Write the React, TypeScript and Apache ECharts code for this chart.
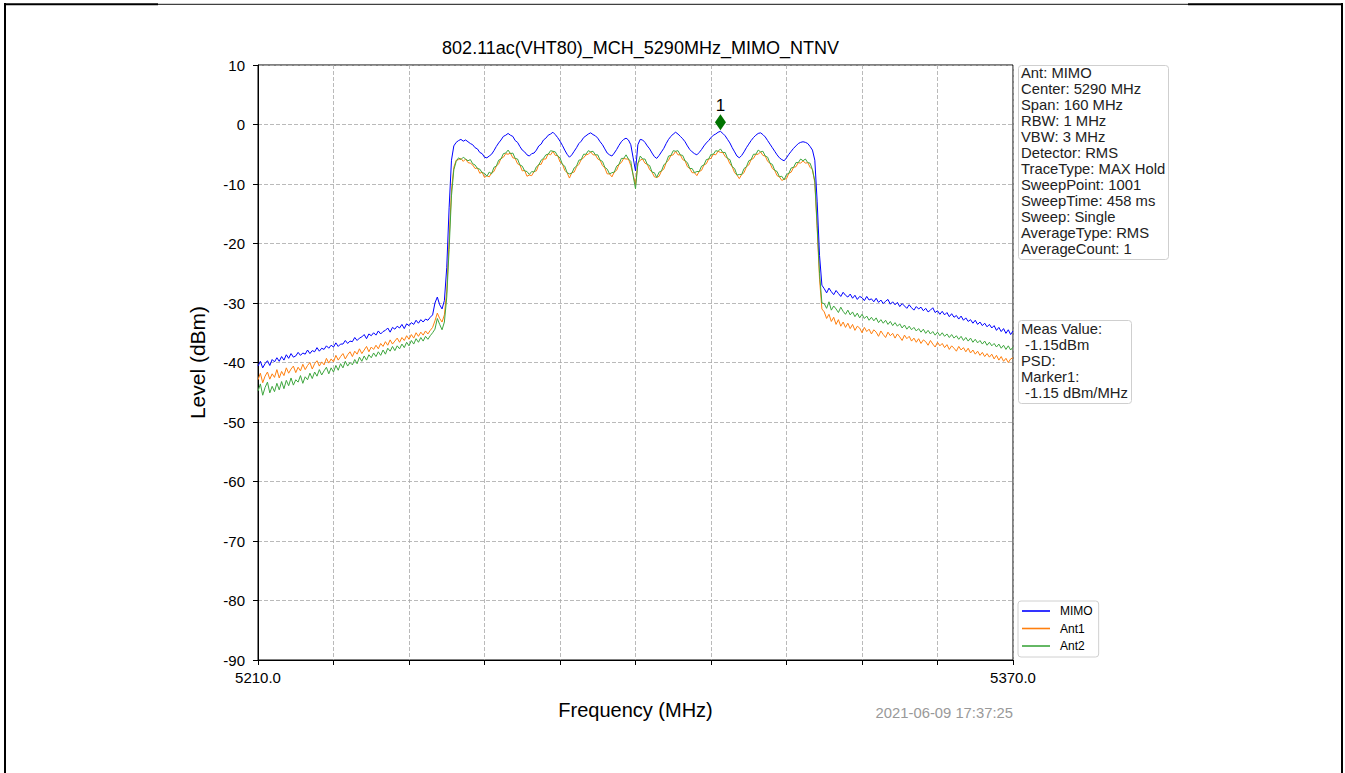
import React, { useEffect, useRef } from "react";
import * as echarts from "echarts";

// ---- axis / sweep settings ----
const F_MIN = 5210;
const F_MAX = 5370;
const STEP = 0.5; // MHz between read-off points
const LEFT_START = 5210;
const BAND_START = 5247.5;
const RIGHT_START = 5330;
const X_TICK = 16;
const Y_MIN = -90;
const Y_MAX = 10;
const Y_TICK = 10;

const TITLE = "802.11ac(VHT80)_MCH_5290MHz_MIMO_NTNV";
const TIMESTAMP = "2021-06-09 17:37:25";
const INFO_LINES = [
  "Ant: MIMO",
  "Center: 5290 MHz",
  "Span: 160 MHz",
  "RBW: 1 MHz",
  "VBW: 3 MHz",
  "Detector: RMS",
  "TraceType: MAX Hold",
  "SweepPoint: 1001",
  "SweepTime: 458 ms",
  "Sweep: Single",
  "AverageType: RMS",
  "AverageCount: 1",
];
const MEAS_LINES = ["Meas Value:", " -1.15dBm", "PSD:", "Marker1:", " -1.15 dBm/MHz"];
const MARKER_FREQ = 5308;
const MARKER_LEVEL = -1.15;

// ---- MIMO (blue) ----
const mimoLeft = [
  -40.6, -39.8, -40.9, -40.2, -39.7, -40.5, -39.5, -39.9, -39.2, -39.8,
  -39.0, -39.6, -38.7, -39.3, -38.5, -39.1, -38.9, -38.3, -38.8, -38.4,
  -38.6, -37.9, -38.5, -38.0, -38.2, -37.5, -38.1, -37.6, -37.8, -37.2,
  -37.6, -37.1, -37.4, -36.7, -37.3, -36.9, -36.9, -36.3, -36.8, -36.4,
  -36.5, -35.8, -36.3, -35.9, -35.7, -35.3, -36.0, -35.2, -35.5, -35.0,
  -35.4, -34.7, -35.2, -34.8, -34.6, -34.2, -34.9, -34.1, -34.4, -33.9,
  -34.2, -33.6, -34.3, -33.5, -33.8, -33.3, -33.6, -32.9, -33.4, -32.8,
  -33.2, -32.7, -32.9, -32.4, -32.0,
];
const mimoBand = [
  -30.0, -29.0, -30.3, -31.0, -29.6, -24.0, -14.0, -6.0, -3.6,
  -3.0, -2.7, -2.5, -2.8, -2.6, -2.9, -3.2, -3.4, -3.9, -4.1,
  -4.7, -4.9, -5.5, -5.6, -5.3, -5.0, -4.4, -3.7, -3.1, -2.6,
  -2.0, -1.8, -1.5, -1.8, -2.0, -2.7, -3.0, -3.7, -4.3, -4.6,
  -5.1, -5.3, -4.9, -4.8, -4.3, -3.6, -3.3, -2.6, -2.3, -1.8,
  -1.6, -1.3, -1.7, -2.2, -2.8, -3.5, -4.3, -5.0, -5.5, -5.1,
  -4.5, -3.9, -3.2, -2.8, -2.2, -1.9, -1.6, -1.4, -1.7, -1.9,
  -2.3, -2.9, -3.4, -4.1, -4.8, -5.1, -5.3, -4.8, -4.2, -3.5,
  -2.9, -2.5, -2.3, -2.6, -3.4, -5.6, -7.8, -3.4, -2.5, -2.6,
  -3.0, -3.6, -4.1, -4.8, -5.4, -5.7, -5.2, -4.6, -4.0, -3.2,
  -2.5, -2.0, -1.6, -1.3, -1.6, -2.0, -2.4, -2.9, -3.6, -4.2,
  -4.6, -4.9, -5.1, -4.7, -4.2, -3.6, -3.1, -2.7, -2.2, -1.8,
  -1.6, -1.3, -1.15, -1.5, -1.9, -2.5, -3.1, -3.9, -4.6, -5.3,
  -5.6, -5.2, -4.6, -3.9, -3.3, -2.7, -2.2, -1.8, -1.5, -1.4,
  -1.7, -2.1, -2.7, -3.3, -3.9, -4.5, -5.1, -5.6, -5.9, -6.1,
  -5.6, -5.0, -4.5, -4.0, -3.6, -3.2, -3.0, -2.9, -3.0, -3.2,
  -3.7, -4.3, -6.0, -13.0, -22.0, -27.0,
];
const mimoRight = [
  -27.6, -28.3, -27.5, -28.1, -28.6, -27.9, -28.4, -28.9, -28.2, -28.7,
  -29.0, -28.5, -29.2, -28.7, -29.4, -28.9, -29.1, -29.6, -28.9, -29.5,
  -29.3, -29.8, -29.2, -29.9, -29.5, -30.1, -29.7, -29.4, -30.2, -29.8,
  -30.3, -29.9, -30.6, -30.1, -30.5, -30.9, -30.3, -30.8, -31.2, -30.6,
  -31.0, -30.7, -31.3, -30.9, -31.5, -31.2, -30.8, -31.6, -31.3, -31.9,
  -31.4, -32.0, -31.6, -32.3, -31.8, -32.4, -32.1, -32.7, -32.2, -32.9,
  -32.5, -33.1, -32.8, -33.4, -32.9, -33.6, -33.2, -33.8, -33.4, -34.0,
  -33.6, -34.2, -33.8, -34.6, -34.1, -34.8, -34.3, -35.1, -34.5, -35.3,
  -34.7,
];

// ---- Ant1 (orange) ----
const ant1Left = [
  -42.9, -41.8, -43.4, -42.3, -41.6, -42.8, -41.9, -42.5, -41.2, -42.6,
  -41.5, -42.2, -40.9, -41.8, -41.1, -40.6, -41.7, -40.8, -41.4, -40.3,
  -41.2, -40.5, -40.0, -41.1, -40.2, -39.7, -40.6, -39.9, -40.4, -39.3,
  -40.1, -39.4, -39.9, -38.8, -39.6, -39.0, -38.5, -39.4, -38.7, -38.2,
  -39.0, -38.1, -38.6, -37.7, -38.5, -37.9, -37.3, -38.2, -37.4, -37.8,
  -37.1, -37.7, -36.8, -37.3, -36.5, -37.1, -36.2, -36.9, -36.4, -35.9,
  -36.6, -35.8, -36.3, -35.5, -36.1, -35.3, -35.9, -35.0, -35.6, -34.9,
  -35.4, -34.7, -35.2, -34.6, -34.1,
];
const ant1Band = [
  -33.0, -31.7, -32.6, -33.2, -32.0, -28.0, -19.5, -11.0, -7.2,
  -6.0, -5.9, -5.7, -6.2, -5.8, -6.4, -6.5, -6.8, -7.4, -7.3,
  -8.2, -8.0, -8.9, -8.6, -8.8, -8.1, -7.9, -7.0, -6.6, -5.7,
  -5.5, -4.9, -5.0, -4.8, -5.6, -5.7, -6.6, -6.8, -7.8, -7.7,
  -8.7, -8.5, -8.6, -7.9, -7.8, -6.7, -6.7, -5.8, -5.8, -4.9,
  -5.1, -4.5, -5.2, -5.2, -6.3, -6.6, -7.7, -8.1, -9.0, -8.1,
  -8.0, -7.1, -6.7, -5.9, -5.6, -5.1, -5.0, -4.6, -5.1, -5.1,
  -5.8, -6.0, -6.9, -7.3, -8.3, -8.3, -8.8, -8.0, -7.7, -6.7,
  -6.4, -5.7, -5.8, -5.8, -6.9, -8.4, -10.1, -6.5, -6.0, -5.8,
  -6.5, -6.7, -7.6, -8.0, -8.8, -8.9, -8.7, -7.8, -7.5, -6.4,
  -6.0, -5.2, -5.1, -4.5, -5.1, -5.1, -5.9, -6.1, -7.1, -7.4,
  -8.1, -8.1, -8.6, -7.9, -7.7, -6.8, -6.6, -5.8, -5.7, -5.0,
  -5.1, -4.5, -4.7, -4.7, -5.4, -5.7, -6.6, -7.1, -8.1, -8.5,
  -9.1, -8.4, -8.1, -7.1, -6.8, -5.9, -5.7, -5.0, -5.0, -4.6,
  -5.2, -5.3, -6.2, -6.5, -7.4, -7.7, -8.6, -8.8, -9.4, -9.2,
  -9.1, -8.2, -8.0, -7.2, -7.1, -6.4, -6.5, -6.1, -6.5, -6.4,
  -7.2, -7.6, -9.8, -17.5, -26.0, -31.0,
];
const ant1Right = [
  -31.5, -32.6, -31.9, -33.1, -32.4, -33.6, -32.8, -33.9, -33.2, -34.1,
  -33.4, -34.3, -33.6, -34.6, -33.9, -34.2, -35.0, -34.1, -34.8, -34.4,
  -35.2, -34.5, -34.9, -35.6, -34.7, -35.3, -35.8, -34.9, -35.5, -35.1,
  -35.9, -35.2, -35.7, -36.3, -35.4, -36.0, -35.6, -36.4, -35.9, -36.6,
  -36.0, -36.8, -36.2, -36.5, -37.1, -36.3, -36.9, -37.4, -36.6, -37.2,
  -36.8, -37.5, -37.0, -37.8, -37.2, -37.6, -38.1, -37.3, -37.9, -37.5,
  -38.2, -37.6, -38.4, -37.9, -38.6, -38.1, -38.8, -38.3, -39.0, -38.5,
  -39.1, -38.6, -39.4, -38.8, -39.6, -39.0, -39.8, -39.3, -40.0, -39.4,
  -39.2,
];

// ---- Ant2 (green) ----
const ant2Left = [
  -44.8, -43.6, -45.5, -44.2, -43.3, -45.1, -44.0, -44.9, -43.5, -44.6,
  -43.2, -44.4, -43.0, -43.9, -42.6, -43.8, -42.9, -43.3, -42.2, -43.5,
  -42.4, -42.9, -41.8, -42.7, -41.6, -42.3, -41.2, -42.1, -41.4, -40.8,
  -41.9, -40.9, -41.6, -40.5, -41.3, -40.2, -40.9, -39.8, -40.6, -40.0,
  -40.4, -39.5, -40.2, -39.1, -39.8, -38.9, -39.6, -38.7, -39.2, -38.4,
  -39.0, -38.2, -38.8, -37.9, -38.6, -37.6, -38.1, -37.3, -38.0, -37.2,
  -37.7, -36.9, -37.5, -36.6, -37.2, -36.3, -36.9, -36.0, -36.6, -35.8,
  -36.4, -35.6, -36.1, -35.5, -35.0,
];
const ant2Band = [
  -34.4, -32.6, -33.6, -34.5, -33.2, -29.0, -21.0, -12.0, -7.6,
  -6.2, -5.6, -5.9, -5.5, -5.8, -6.1, -5.9, -6.6, -6.8, -7.4,
  -7.5, -8.1, -8.2, -8.7, -8.0, -8.3, -7.2, -7.0, -6.0, -5.8,
  -4.9, -4.8, -4.3, -4.9, -4.8, -5.7, -5.8, -6.8, -7.0, -7.8,
  -7.9, -8.4, -7.9, -8.0, -7.1, -6.8, -6.0, -5.7, -5.1, -5.0,
  -4.4, -4.5, -4.6, -5.3, -5.6, -6.7, -7.0, -8.1, -8.3, -8.2,
  -7.3, -7.0, -6.0, -5.9, -5.0, -5.0, -4.4, -4.6, -4.5, -5.1,
  -5.1, -6.0, -6.2, -7.2, -7.5, -8.3, -8.1, -8.0, -7.0, -6.7,
  -5.7, -5.7, -5.1, -5.8, -6.2, -8.6, -10.8, -6.6, -5.3, -5.8,
  -5.8, -6.7, -6.9, -8.0, -8.1, -8.9, -8.0, -7.8, -6.8, -6.4,
  -5.3, -5.2, -4.4, -4.5, -4.4, -5.1, -5.2, -6.1, -6.4, -7.4,
  -7.4, -8.1, -7.9, -7.9, -7.0, -6.8, -5.9, -5.8, -5.0, -5.0,
  -4.4, -4.5, -4.1, -4.7, -4.7, -5.7, -5.9, -7.1, -7.4, -8.5,
  -8.4, -8.4, -7.4, -7.1, -6.1, -5.9, -5.0, -5.0, -4.3, -4.6,
  -4.5, -5.3, -5.5, -6.5, -6.7, -7.7, -7.9, -8.8, -8.7, -9.3,
  -8.4, -8.2, -7.3, -7.2, -6.4, -6.4, -5.8, -6.1, -5.8, -6.4,
  -6.5, -7.6, -9.5, -17.0, -25.0, -30.0,
];
const ant2Right = [
  -30.1, -30.9, -29.8, -31.2, -30.5, -31.0, -31.6, -30.7, -31.4, -31.9,
  -31.2, -32.0, -31.5, -32.3, -31.7, -32.5, -31.9, -32.6, -32.2, -32.9,
  -32.4, -33.0, -32.5, -33.3, -32.8, -33.4, -32.9, -33.6, -33.1, -33.8,
  -33.3, -33.9, -33.5, -34.2, -33.7, -34.4, -33.9, -34.5, -34.1, -34.7,
  -34.3, -34.9, -34.4, -35.1, -34.6, -35.2, -34.8, -35.4, -34.9, -35.5,
  -35.0, -35.6, -35.2, -35.8, -35.3, -35.9, -35.5, -36.1, -35.6, -36.3,
  -35.8, -36.4, -35.9, -36.6, -36.1, -36.7, -36.3, -36.9, -36.4, -37.1,
  -36.6, -37.2, -36.8, -37.4, -36.9, -37.6, -37.1, -37.8, -37.2, -37.9,
  -37.4,
];

const FONT = "Liberation Sans, Arial, Helvetica, sans-serif";

const toPts = (start: number, vals: number[]) =>
  vals.map((v, k) => [start + k * STEP - F_MIN, v]);
const trace = (l: number[], b: number[], r: number[]) => [
  ...toPts(LEFT_START, l),
  ...toPts(BAND_START, b),
  ...toPts(RIGHT_START, r),
];

export default function App() {
  const ref = useRef<HTMLDivElement>(null);
  useEffect(() => {
    if (!ref.current) return;
    const chart = echarts.init(ref.current, null, { renderer: "svg" });
    const gridLine = { color: "#a8a8a8", width: 0.8, type: [4, 2] as any };
    const black = { color: "#000", width: 1 };
    chart.setOption({
      animation: false,
      backgroundColor: "#fff",
      textStyle: { fontFamily: FONT },
      title: {
        text: TITLE,
        left: 635.5,
        top: 34,
        textAlign: "center",
        textStyle: { fontSize: 18, fontWeight: "normal", color: "#000", fontFamily: FONT },
      },
      grid: {
        left: 258,
        top: 65,
        width: 755,
        height: 595,
        show: true,
        borderColor: "#000",
        borderWidth: 1,
        backgroundColor: "transparent",
        containLabel: false,
        outerBoundsMode: "none",
      },
      legend: {
        data: ["MIMO", "Ant1", "Ant2"],
        orient: "vertical",
        left: 1018,
        top: 601,
        icon: "rect",
        itemWidth: 28,
        itemHeight: 1.6,
        itemGap: 5.5,
        padding: [4, 6, 5, 4],
        borderColor: "#d0d0d0",
        borderWidth: 1,
        borderRadius: 3,
        backgroundColor: "#fff",
        textStyle: { fontSize: 12, color: "#000", fontFamily: FONT, padding: [0, 0, 0, 5] },
      },
      xAxis: {
        type: "value",
        min: 0,
        max: F_MAX - F_MIN,
        interval: X_TICK,
        name: "Frequency (MHz)",
        nameLocation: "middle",
        nameGap: 40,
        nameTextStyle: { fontSize: 20, color: "#000", fontFamily: FONT },
        axisLine: { show: true, onZero: false, lineStyle: black },
        axisTick: { show: true, inside: false, length: 5, lineStyle: black },
        splitLine: { show: true, lineStyle: gridLine },
        axisLabel: {
          show: true,
          fontSize: 15,
          color: "#000",
          margin: 10,
          fontFamily: FONT,
          showMinLabel: true,
          showMaxLabel: true,
          hideOverlap: false,
          formatter: (v: number) =>
            v === 0 || v === F_MAX - F_MIN ? (v + F_MIN).toFixed(1) : "",
        },
      },
      yAxis: {
        type: "value",
        min: Y_MIN,
        max: Y_MAX,
        interval: Y_TICK,
        name: "Level (dBm)",
        nameLocation: "middle",
        nameGap: 50,
        nameTextStyle: { fontSize: 21, color: "#000", fontFamily: FONT },
        axisLine: { show: true, onZero: false, lineStyle: black },
        axisTick: { show: true, inside: false, length: 5, lineStyle: black },
        splitLine: { show: true, lineStyle: gridLine },
        axisLabel: { fontSize: 15, color: "#000", margin: 13, fontFamily: FONT },
      },
      series: [
        {
          name: "MIMO",
          type: "line",
          data: trace(mimoLeft, mimoBand, mimoRight),
          showSymbol: false,
          symbol: "none",
          color: "#0000ff",
          lineStyle: { width: 1, color: "#0000ff" },
          z: 4,
        },
        {
          name: "Ant1",
          type: "line",
          data: trace(ant1Left, ant1Band, ant1Right),
          showSymbol: false,
          symbol: "none",
          color: "#ff7f0e",
          lineStyle: { width: 1, color: "#ff7f0e" },
          z: 2,
        },
        {
          name: "Ant2",
          type: "line",
          data: trace(ant2Left, ant2Band, ant2Right),
          showSymbol: false,
          symbol: "none",
          color: "#3ea63e",
          lineStyle: { width: 1, color: "#3ea63e" },
          z: 3,
        },
        {
          name: "Marker1",
          type: "scatter",
          data: [[MARKER_FREQ - F_MIN, MARKER_LEVEL]],
          symbol: "diamond",
          symbolSize: [11, 16],
          symbolOffset: [0, -9],
          itemStyle: { color: "#007400", opacity: 1 },
          label: {
            show: true,
            formatter: "1",
            position: "top",
            distance: 0,
            fontSize: 17,
            color: "#000",
            textBorderWidth: 0,
            fontFamily: FONT,
          },
          emphasis: { disabled: true },
          z: 6,
        },
      ],
      graphic: [
        // outer frame of the page
        { type: "line", shape: { x1: 5, y1: 3, x2: 5, y2: 773 }, style: { stroke: "#000", lineWidth: 2 }, silent: true },
        { type: "line", shape: { x1: 1342, y1: 3, x2: 1342, y2: 773 }, style: { stroke: "#000", lineWidth: 2 }, silent: true },
        { type: "line", shape: { x1: 4, y1: 4.3, x2: 158, y2: 4.3 }, style: { stroke: "#000", lineWidth: 2 }, silent: true },
        { type: "line", shape: { x1: 158, y1: 4.3, x2: 1188, y2: 4.3 }, style: { stroke: "#111", lineWidth: 1 }, silent: true },
        { type: "line", shape: { x1: 1188, y1: 4.3, x2: 1343, y2: 4.3 }, style: { stroke: "#000", lineWidth: 2 }, silent: true },
        // info box
        {
          type: "rect",
          shape: { x: 1018.5, y: 65.5, width: 150, height: 194, r: 3 },
          style: { fill: "#fff", stroke: "#cfcfcf", lineWidth: 1 },
          z: 10,
        },
        {
          type: "text",
          x: 1021,
          y: 65,
          z: 11,
          style: {
            text: INFO_LINES.join("\n"),
            fontSize: 14.8,
            fontFamily: FONT,
            lineHeight: 16,
            fill: "#222",
            verticalAlign: "top",
            align: "left",
          },
        },
        // measurement box
        {
          type: "rect",
          shape: { x: 1018.5, y: 320.5, width: 113, height: 83, r: 3 },
          style: { fill: "#fff", stroke: "#cfcfcf", lineWidth: 1 },
          z: 10,
        },
        {
          type: "text",
          x: 1021,
          y: 321,
          z: 11,
          style: {
            text: MEAS_LINES.join("\n"),
            fontSize: 14.8,
            fontFamily: FONT,
            lineHeight: 16,
            fill: "#222",
            verticalAlign: "top",
            align: "left",
          },
        },
        // timestamp
        {
          type: "text",
          x: 1013,
          y: 713,
          style: {
            text: TIMESTAMP,
            fontSize: 14.8,
            fontFamily: FONT,
            fill: "#999",
            align: "right",
            verticalAlign: "middle",
          },
        },
      ],
    });
    return () => chart.dispose();
  }, []);
  return (
    <div
      ref={ref}
      style={{ position: "absolute", left: 0, top: 0, width: 1345, height: 773, background: "#fff" }}
    />
  );
}
